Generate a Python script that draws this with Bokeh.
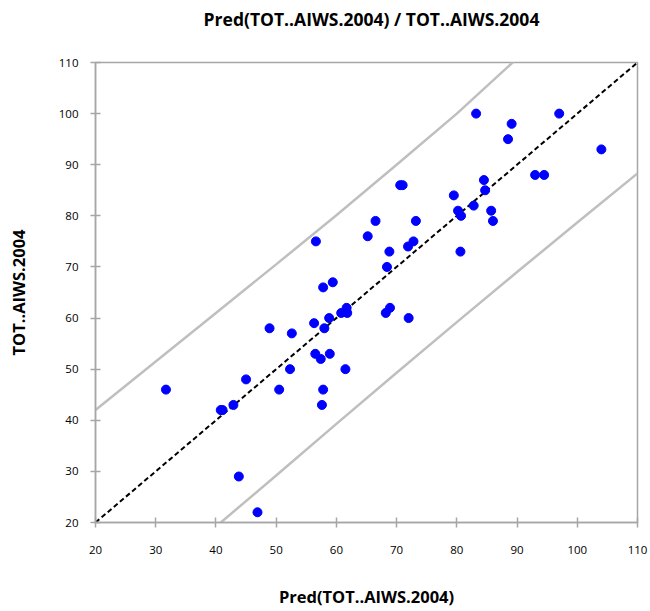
from bokeh.plotting import figure
from bokeh.models import Range1d, FixedTicker
from bokeh.layouts import column
from bokeh.core.properties import value
from bokeh.embed import file_html
from bokeh.resources import INLINE

# observed vs predicted
pred = [31.7, 40.8, 41.1, 42.9, 43.8, 45.0, 46.9, 48.9, 50.5, 52.3, 52.6, 56.3, 56.5, 56.6,
        57.4, 57.6, 57.8, 57.8, 58.0, 58.8, 58.9, 59.4, 60.8, 61.5, 61.7, 61.8, 65.2, 66.5,
        68.2, 68.4, 68.8, 68.9, 70.6, 71.0, 71.9, 72.0, 72.8, 73.2, 79.5, 80.2, 80.6, 80.7,
        82.8, 83.2, 84.5, 84.7, 85.7, 86.0, 88.5, 89.1, 93.0, 94.5, 97.0, 104.0]
obs = [46, 42, 42, 43, 29, 48, 22, 58, 46, 50, 57, 59, 53, 75, 52, 43, 46, 66, 58, 60,
       53, 67, 61, 50, 62, 61, 76, 79, 61, 70, 73, 62, 86, 86, 74, 60, 75, 79, 84, 81,
       73, 80, 82, 100, 87, 85, 81, 79, 95, 98, 88, 88, 100, 93]

# prediction interval bands
band_x = [20, 30, 40, 50, 60, 70, 80, 90, 100, 110]
band_upper = [42.0, 51.5, 61.0, 70.5, 80.1, 90.0, 100.0, 110.8, 121.0, 131.0]
band_lower = [-1.0, 9.0, 19.2, 29.2, 39.3, 49.3, 59.2, 69.0, 78.7, 88.3]

diag = [20, 110]
ticks = [20, 30, 40, 50, 60, 70, 80, 90, 100, 110]

title_text = "Pred(TOT..AIWS.2004) / TOT..AIWS.2004"
x_label = "Pred(TOT..AIWS.2004)"
y_label = "TOT..AIWS.2004"

FONT = "Open Sans"
AX = "#a6a6a6"

# title strip (pixel-sized ranges)
t = figure(width=650, height=30, output_backend="svg", toolbar_location=None,
           x_range=Range1d(0, 650), y_range=Range1d(0, 30), min_border=0)
t.axis.visible = False
t.xgrid.visible = False
t.ygrid.visible = False
t.outline_line_color = None
t.text(x=[331], y=[12], text=[title_text], text_align="center", text_baseline="middle",
       text_font=value(FONT), text_font_size="17.5px", text_font_style="bold",
       text_color="#000000")

p = figure(width=650, height=581, output_backend="svg", toolbar_location=None,
           x_range=Range1d(20, 110), y_range=Range1d(20, 110),
           min_border_left=95, min_border_right=13, min_border_top=32, min_border_bottom=89)

p.xgrid.visible = False
p.ygrid.visible = False
p.outline_line_color = AX
p.outline_line_width = 1.5

for ax in (p.xaxis[0], p.yaxis[0]):
    ax.ticker = FixedTicker(ticks=ticks)
    ax.axis_line_color = AX
    ax.axis_line_width = 1.5
    ax.major_tick_line_color = AX
    ax.major_tick_line_width = 1.5
    ax.major_tick_in = 5
    ax.major_tick_out = 5
    ax.minor_tick_line_color = None
    ax.major_label_text_font = FONT
    ax.major_label_text_font_size = "11.5px"
    ax.major_label_text_color = "#000000"
    ax.axis_label_text_font = FONT
    ax.axis_label_text_font_size = "16.5px"
    ax.axis_label_text_font_style = "bold"
    ax.axis_label_text_color = "#000000"

p.xaxis.axis_label = x_label
p.yaxis.axis_label = y_label
p.xaxis.major_label_standoff = 18
p.xaxis.axis_label_standoff = 28
p.yaxis.major_label_standoff = 12
p.yaxis.axis_label_standoff = 26

p.line(band_x, band_upper, line_color="#bfbfbf", line_width=2.5)
p.line(band_x, band_lower, line_color="#bfbfbf", line_width=2.5)
p.line(diag, diag, line_color="#000000", line_width=2, line_dash="5 3")
p.scatter(pred, obs, size=9, fill_color="#0000ff", line_color="#0000ff")

layout = column(t, p, spacing=0)
open("out.html", "w").write(file_html(layout, INLINE))
